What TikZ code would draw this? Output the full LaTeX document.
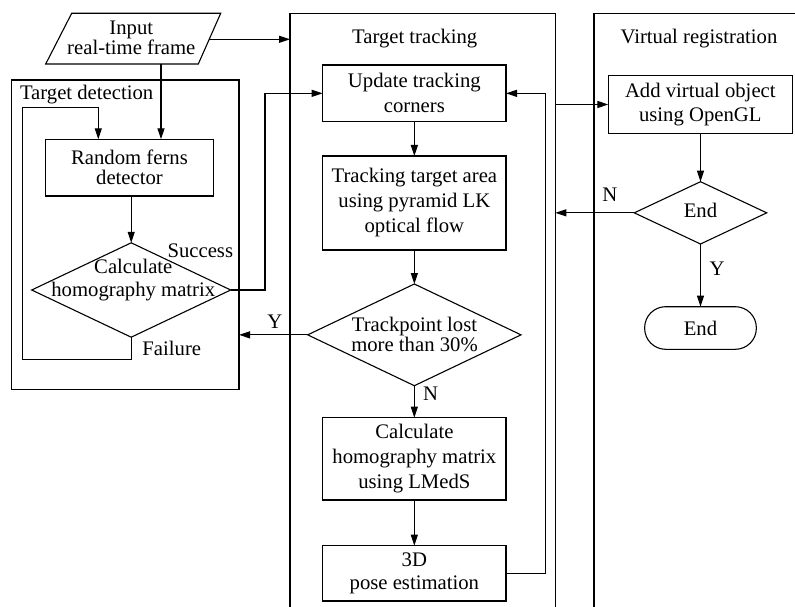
\documentclass[tikz,border=0pt]{standalone}
\usepackage{fontspec}
\setmainfont{Liberation Serif}
\usetikzlibrary{shapes.geometric,arrows.meta}
\begin{document}
\begin{tikzpicture}[x=1pt,y=-1pt,
  every node/.style={inner sep=0pt,outer sep=0pt},
  ln/.style={line width=1.1pt},
  arr/.style={ln,-{Triangle[length=11pt,width=7pt]}},
  fs/.style={font=\fontsize{20.7}{#1}\selectfont},
  fs/.default=25,
  box/.style={draw,ln,rectangle,align=center,fs},
  dia/.style={draw,ln,diamond},
  txt/.style={align=center,fs},
  lab/.style={fs,anchor=base}]
\useasboundingbox (0,0) rectangle (795,607);
\begin{scope}
\clip (0,0) rectangle (795,607);
\node[draw,ln,minimum width=265.3pt,minimum height=636.7pt] (trk) at (422.65,331.65) {};
\node[draw,ln,minimum width=226pt,minimum height=636.7pt] (vr) at (707,331.65) {};
\end{scope}
\node[draw,ln,minimum width=227.3pt,minimum height=309.3pt] (det) at (125.35,234.65) {};

\node[lab,anchor=base west] (detl) at (20,100) {Target detection};
\node[lab] (trkl) at (414.7,44) {Target tracking};
\node[lab] (vrl) at (699,44) {Virtual registration};

% input parallelogram
\draw[ln] (45.7,64) -- (71.7,13.3) -- (220.7,13.3) -- (198.3,64) -- cycle;
\node[txt,fs=20] (input) at (131.3,38.2) {Input\\real-time frame};
\coordinate (inB) at (161,64);
\coordinate (inR) at (209.2,39.3);

% target detection
\node[box,fs=20,minimum width=167.6pt,minimum height=56.7pt] (ferns) at (129.5,167.65) {Random ferns\\detector};
\node[dia,minimum width=199pt,minimum height=94.4pt] (d1) at (131.2,290) {};
\node[txt,fs=23.4] (d1t) at (133.3,280.2) {Calculate\\homography matrix};

% target tracking
\node[box,minimum width=183.3pt,minimum height=56.7pt] (upd) at (414.35,93.35) {Update tracking\\corners};
\node[box,minimum width=183.3pt,minimum height=94pt] (lk) at (414.35,203) {Tracking target area\\using pyramid LK\\optical flow};
\node[dia,minimum width=213.3pt,minimum height=101.7pt] (d2) at (414.35,334.85) {};
\node[txt,fs=20] (d2t) at (414.5,334.7) {Trackpoint lost\\more than 30\%};
\node[box,minimum width=183.3pt,minimum height=82.3pt] (lm) at (414.35,458.85) {Calculate\\homography matrix\\using LMedS};
\node[box,fs=22.3,minimum width=183.3pt,minimum height=55.3pt] (pose) at (414.35,573.35) {3D\\pose estimation};

% virtual registration
\node[box,fs=23.3,minimum width=184pt,minimum height=57.6pt] (add) at (700.3,104.5) {Add virtual object\\using OpenGL};
\node[dia,minimum width=132.4pt,minimum height=62.3pt] (d3) at (700.5,212.85) {};
\node[txt] (d3t) at (700.5,210.5) {End};
\node[box,rounded corners=21pt,minimum width=111.7pt,minimum height=42.6pt] (endt) at (700.5,328) {End};

% connectors
\draw[arr] (inR) -- (inR -| trk.west);
\draw[arr] (inB) -- (inB |- ferns.north);
\coordinate (lpB) at (22.7,359.3);
\coordinate (lpT) at (22.7,107.7);
\coordinate (fIn) at (98.3,139.3);
\draw[arr] (d1.south) |- (lpB) -- (lpT) -| (fIn);
\draw[arr] (d1.north |- ferns.south) -- (d1.north);
\coordinate (sc) at (265,93.35);
\draw[arr] (d1.east) -| (sc) -- (upd.west);
\draw[arr] (upd.south) -- (lk.north);
\draw[arr] (lk.south) -- (d2.north);
\draw[arr] (d2.west) -- (d2.west -| det.east);
\draw[arr] (d2.south) -- (lm.north);
\draw[arr] (lm.south) -- (pose.north);
\coordinate (fb) at (545.7,93.35);
\draw[arr] (pose.east) -| (fb) -- (upd.east);
\draw[arr] (add.west -| trk.east) -- (add.west);
\draw[arr] (d3.north |- add.south) -- (d3.north);
\draw[arr] (d3.west) -- (d3.west -| trk.east);
\draw[arr] (d3.south) -- (endt.north);

% labels
\node[lab] (succ) at (200.3,257.3) {Success};
\node[lab] (fail) at (171.8,355) {Failure};
\node[lab] (y1) at (274.8,328) {Y};
\node[lab] (n1) at (430.7,400.7) {N};
\node[lab] (n2) at (609.8,201.7) {N};
\node[lab] (y2) at (717,275) {Y};
\end{tikzpicture}
\end{document}
